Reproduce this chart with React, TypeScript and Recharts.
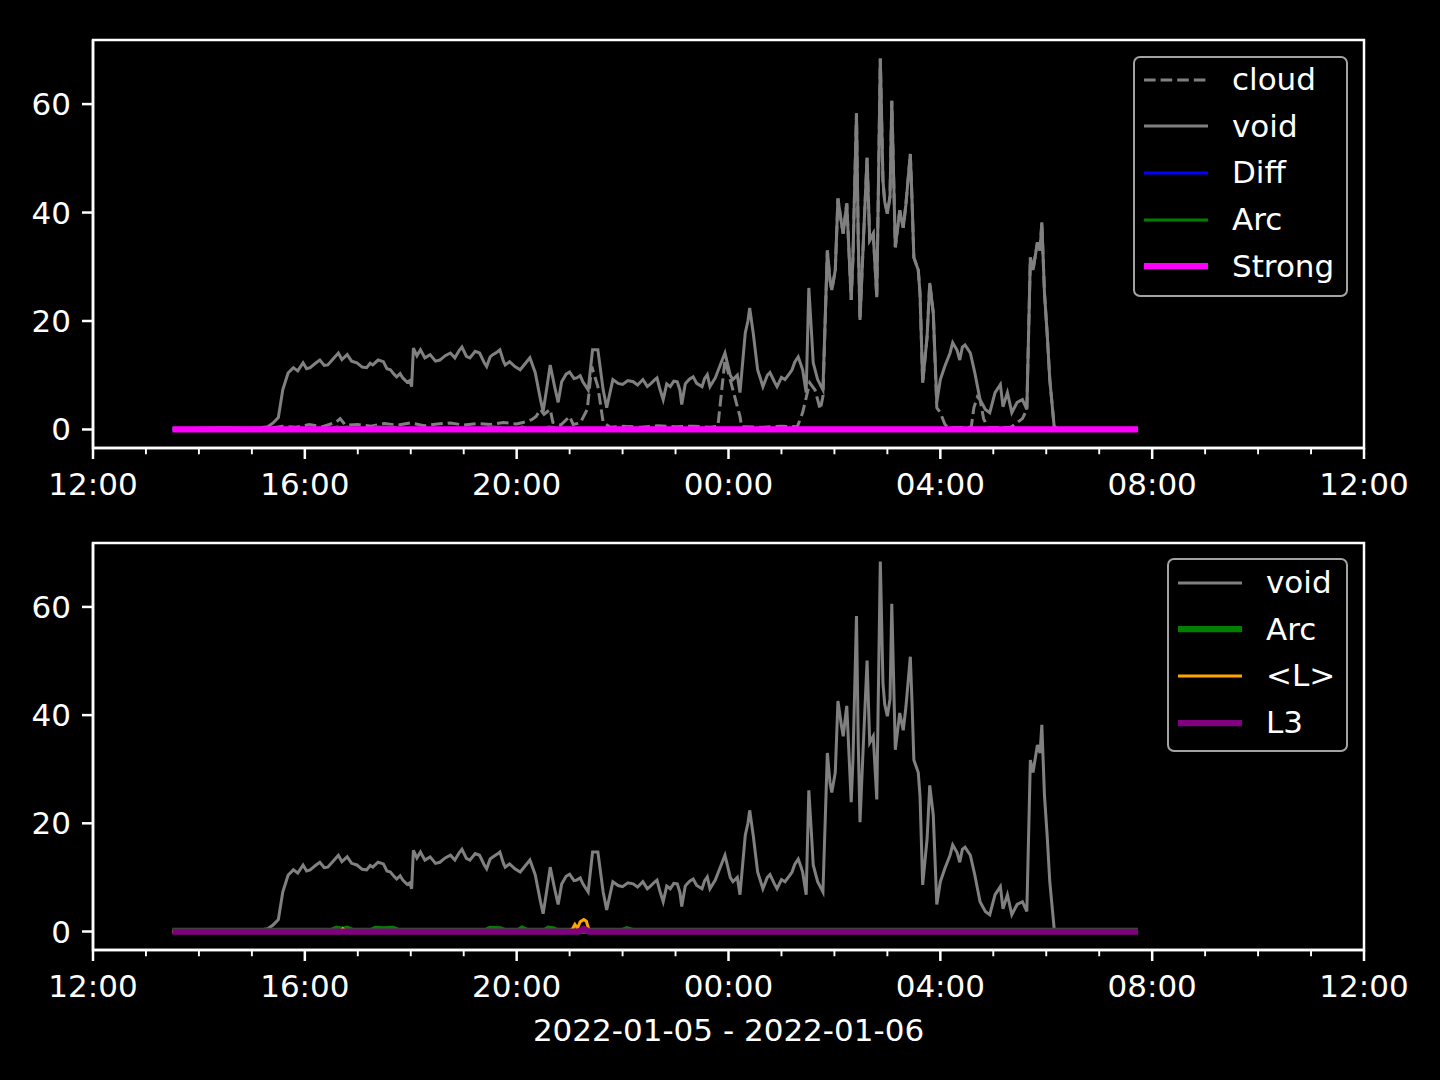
import React from 'react';
import { LineChart, Line, XAxis, YAxis, ReferenceArea } from 'recharts';

// time = minutes after 12:00 on 2022-01-05
const voidTimes = [
  90, 120, 150, 175, 190, 198, 204, 210, 215, 221, 227, 232, 238, 242, 246, 252, 257, 262, 266, 272,
  278, 282, 288, 293, 299, 305, 310, 314, 317, 323, 329, 333, 337, 341, 344, 348, 351, 356, 359, 361,
  363, 367, 371, 376, 382, 388, 393, 399, 405, 410, 415, 418, 423, 427, 433, 438, 443, 446, 450, 453,
  458, 461, 465, 467, 472, 478, 484, 490, 495, 501, 507, 510, 514, 518, 523, 527, 531, 536, 540, 545,
  548, 552, 555, 561, 566, 572, 578, 582, 589, 595, 600, 606, 612, 617, 623, 628, 631, 636, 639, 642,
  646, 650, 654, 658, 662, 665, 667, 671, 673, 676, 680, 684, 690, 693, 696, 699, 705, 710, 716, 722,
  725, 730, 733, 739, 742, 744, 748, 753, 759, 764, 767, 772, 775, 780, 784, 789, 792, 795, 799, 802,
  804, 808, 811, 814, 816, 821, 827, 832, 835, 837, 841, 844, 848, 850, 852, 854, 859, 861, 865, 867,
  869, 872, 877, 880, 884, 888, 892, 895, 897, 900, 903, 905, 909, 914, 918, 921, 926, 928, 930, 935,
  937, 940, 945, 948, 952, 956, 960, 965, 971, 974, 979, 982, 985, 988, 994, 999, 1005, 1011, 1016, 1022,
  1028, 1031, 1036, 1041, 1047, 1053, 1058, 1062, 1065, 1070, 1073, 1075, 1078, 1081, 1084, 1089, 1094, 1184,
];
const voidValues = [
  0.1, 0.2, 0.3, 0.2, 0.3, 0.5, 1.2, 2.2, 7.3, 10.4, 11.4, 10.8, 12.3, 11.2, 11.4, 12.2, 12.8, 11.8, 11.9, 13.0,
  14.1, 12.9, 13.8, 12.6, 12.3, 11.5, 11.4, 12.2, 11.9, 12.8, 12.5, 11.2, 11.0, 10.2, 9.7, 10.3, 9.5, 8.7, 9.0, 7.9,
  15.0, 13.6, 14.7, 13.2, 13.8, 12.6, 12.8, 13.6, 14.1, 13.2, 14.6, 15.2, 13.5, 13.2, 14.4, 14.1, 12.4, 11.6, 13.4, 13.8,
  14.3, 14.7, 12.6, 11.9, 12.5, 11.6, 11.0, 12.2, 13.2, 10.5, 5.5, 3.3, 7.5, 11.9, 7.9, 5.0, 8.8, 10.2, 10.6, 9.4,
  9.5, 9.9, 8.8, 7.3, 14.7, 14.7, 7.3, 4.0, 9.2, 8.5, 8.3, 9.0, 8.8, 8.2, 9.2, 7.9, 8.3, 9.1, 9.5, 7.6,
  5.5, 8.4, 7.9, 8.9, 8.8, 7.2, 4.6, 8.4, 8.8, 9.3, 9.7, 8.5, 7.9, 9.4, 10.1, 7.9, 9.5, 11.6, 14.1, 10.0,
  9.2, 10.0, 6.8, 17.8, 20.0, 22.4, 17.8, 11.0, 7.9, 10.0, 10.5, 8.8, 7.9, 9.6, 9.2, 10.3, 11.0, 12.4, 13.4, 12.0,
  11.0, 6.8, 26.1, 18.0, 12.3, 9.2, 7.3, 33.0, 27.5, 25.7, 29.4, 42.6, 38.0, 36.1, 39.0, 41.7, 23.9, 31.7, 58.3, 35.0,
  20.2, 31.7, 50.1, 34.9, 36.1, 24.4, 68.4, 45.9, 42.0, 39.8, 43.0, 60.6, 33.6, 40.4, 37.2, 41.5, 50.8, 42.0, 31.7, 29.4,
  25.0, 8.6, 17.1, 27.0, 21.5, 5.0, 9.2, 11.6, 14.1, 16.0, 14.6, 12.8, 15.2, 15.6, 14.1, 10.5, 5.5, 3.7, 3.1, 6.8,
  8.3, 4.2, 6.8, 3.1, 5.0, 5.5, 3.7, 31.7, 29.4, 34.5, 33.0, 38.2, 25.1, 17.8, 9.2, 0.5, 0.1, 0.1,
];

const cloudTimes = [
  90, 200, 215, 230, 245, 260, 275, 280, 286, 300, 315, 330, 345, 360, 375, 390, 405, 420, 435, 450,
  465, 480, 490, 497, 502, 507, 511, 518, 521, 530, 540, 544, 552, 560, 565, 572, 578, 586, 600, 620,
  640, 660, 680, 700, 708, 710, 716, 725, 733, 735, 760, 780, 798, 804, 812, 818, 824, 827, 832, 835,
  837, 841, 844, 848, 850, 852, 854, 859, 861, 865, 867, 869, 872, 877, 880, 884, 888, 892, 895, 897,
  900, 903, 905, 909, 914, 918, 921, 926, 928, 930, 935, 937, 940, 945, 948, 952, 956, 960, 965, 969,
  995, 998, 1002, 1005, 1009, 1014, 1040, 1053, 1058, 1062, 1065, 1070, 1073, 1075, 1078, 1081, 1084, 1089, 1094, 1184,
];
const cloudValues = [
  0, 0.2, 0.6, 0.4, 0.9, 0.5, 1.3, 2.0, 0.8, 0.9, 0.6, 1.1, 0.8, 1.2, 0.7, 1.0, 1.2, 0.8, 1.1, 0.9,
  1.3, 1.0, 1.4, 1.8, 2.4, 3.7, 2.8, 3.7, 1.3, 0.8, 2.4, 0.9, 1.2, 3.7, 11.6, 7.9, 1.3, 0.4, 0.6, 0.4,
  0.7, 0.5, 0.6, 0.4, 0.6, 3.7, 12.8, 7.3, 2.4, 0.5, 0.4, 0.6, 0.5, 3.1, 8.6, 7.3, 3.7, 6.1, 33.0, 27.5,
  25.7, 29.4, 42.6, 38.0, 36.1, 39.0, 41.7, 23.9, 31.7, 58.3, 35.0, 20.2, 31.7, 50.1, 34.9, 36.1, 24.4, 68.4, 45.9, 42.0,
  39.8, 43.0, 60.6, 33.6, 40.4, 37.2, 41.5, 50.8, 42.0, 31.7, 29.4, 25.0, 8.6, 17.1, 27.0, 21.5, 4.0, 3.1, 1.0, 0.3,
  0.4, 4.0, 6.0, 5.5, 2.0, 0.3, 0.4, 2.0, 3.7, 31.7, 29.4, 34.5, 33.0, 38.2, 25.1, 17.8, 9.2, 0.5, 0, 0,
];

const arcTimes = [90, 270, 276, 282, 288, 294, 315, 320, 330, 340, 346, 445, 450, 461, 467, 482, 486, 492, 512, 516, 521, 526, 600, 605, 612, 1184];
const arcValues = [0.1, 0.1, 0.5, 0.3, 0.5, 0.1, 0.1, 0.5, 0.4, 0.5, 0.1, 0.1, 0.5, 0.4, 0.1, 0.1, 0.5, 0.1, 0.1, 0.5, 0.4, 0.1, 0.1, 0.4, 0.1, 0.1];

const meanLTimes = [90, 280, 283, 286, 538, 543, 546, 549, 552, 556, 559, 562, 566, 1184];
const meanLValues = [0.05, 0.05, 0.5, 0.05, 0.05, 0.4, 1.3, 0.6, 1.8, 2.2, 1.9, 0.2, 0.05, 0.05];

const l3Times = [90, 550, 556, 562, 1184];
const l3Values = [0, 0, 0.5, 0, 0];

const flatTimes = [90, 1184];
const diffValues = [0, 0];
const strongValues = [0, 0];

const hourTicks = [0, 60, 120, 180, 240, 300, 360, 420, 480, 540, 600, 660, 720, 780, 840, 900, 960, 1020, 1080, 1140, 1200, 1260, 1320, 1380, 1440];
const majorLabels = ['12:00', '16:00', '20:00', '00:00', '04:00', '08:00', '12:00'];
const yTicks = [0, 20, 40, 60];
const xTitle = '2022-01-05 - 2022-01-06';

const Y_MIN = -3.42;
const Y_MAX = 71.82;
const FONT = "'DejaVu Sans', sans-serif";

const rows = (times: number[], values: number[]) => times.map((t, i) => ({ t, v: values[i] }));

const XTick = (props: any) => {
  const { x, y, payload } = props;
  const major = payload.value % 240 === 0;
  return (
    <g>
      <line x1={x} x2={x} y1={y} y2={y + (major ? 11 : 6.25)} stroke="#fff" strokeWidth={major ? 2.5 : 1.9} />
      {major && (
        <text x={x} y={y + 47} textAnchor="middle" fill="#fff" fontSize={31} fontFamily={FONT}>
          {majorLabels[payload.value / 240]}
        </text>
      )}
    </g>
  );
};

type LegendItem = { name: string; color: string; width: number; dash?: string };

function LegendBox({ left, top, width, height, items, handleLeft, textLeft, firstRow }: {
  left: number; top: number; width: number; height: number; items: LegendItem[];
  handleLeft: number; textLeft: number; firstRow: number;
}) {
  return (
    <div style={{
      position: 'absolute', left, top, width, height, boxSizing: 'border-box',
      border: '2.5px solid #a3a3a3', borderRadius: 7, background: '#000', fontFamily: FONT,
    }}>
      {items.map((it, i) => {
        const cy = firstRow + i * 46.7;
        return (
          <div key={it.name}>
            <svg style={{ position: 'absolute', left: handleLeft, top: cy - 5 }} width={65} height={10}>
              <line x1={0} x2={64} y1={5} y2={5} stroke={it.color} strokeWidth={it.width} strokeDasharray={it.dash} />
            </svg>
            <div style={{
              position: 'absolute', left: textLeft, top: cy - 15.5, height: 31, lineHeight: '31px',
              fontSize: 31, color: '#fff', whiteSpace: 'nowrap',
            }}>
              {it.name}
            </div>
          </div>
        );
      })}
    </div>
  );
}

function Panel({ height, children }: { height: number; children: React.ReactNode }) {
  return (
    <LineChart width={1440} height={height} margin={{ top: 40, right: 76, bottom: 0, left: 0 }}>
      <XAxis
        dataKey="t" type="number" domain={[0, 1440]} allowDataOverflow ticks={hourTicks} interval={0}
        height={72} tickSize={0} tickMargin={0} tickLine={false} tick={<XTick />}
        axisLine={{ stroke: '#fff', strokeWidth: 2.5 }}
      />
      <YAxis
        type="number" domain={[Y_MIN, Y_MAX]} allowDataOverflow ticks={yTicks} width={93}
        tickSize={11} tickMargin={11} tick={{ fill: '#fff', fontSize: 31, fontFamily: FONT }}
        tickLine={{ stroke: '#fff', strokeWidth: 2.5 }} axisLine={{ stroke: '#fff', strokeWidth: 2.5 }}
      />
      <ReferenceArea x1={0} x2={1440} y1={Y_MIN} y2={Y_MAX} fill="none" stroke="#fff" strokeWidth={2.5} ifOverflow="visible" />
      {children}
    </LineChart>
  );
}

export default function App() {
  const voidRows = rows(voidTimes, voidValues);
  const arcRows = rows(arcTimes, arcValues);
  return (
    <div style={{ position: 'absolute', left: 0, top: 0, width: 1440, height: 1080, background: '#000', fontFamily: FONT, overflow: 'hidden' }}>
      <div style={{ position: 'absolute', left: 0, top: 0 }}>
        <Panel height={520}>
          <Line data={rows(cloudTimes, cloudValues)} dataKey="v" name="cloud" stroke="#808080" strokeWidth={3} strokeDasharray="11.6 5" dot={false} isAnimationActive={false} />
          <Line data={voidRows} dataKey="v" name="void" stroke="#808080" strokeWidth={3} dot={false} isAnimationActive={false} />
          <Line data={rows(flatTimes, diffValues)} dataKey="v" name="Diff" stroke="#0000ff" strokeWidth={3} dot={false} isAnimationActive={false} />
          <Line data={arcRows} dataKey="v" name="Arc" stroke="#008000" strokeWidth={3} dot={false} isAnimationActive={false} />
          <Line data={rows(flatTimes, strongValues)} dataKey="v" name="Strong" stroke="#ff00ff" strokeWidth={6.25} dot={false} isAnimationActive={false} />
        </Panel>
      </div>
      <div style={{ position: 'absolute', left: 0, top: 503 }}>
        <Panel height={519}>
          <Line data={voidRows} dataKey="v" name="void" stroke="#808080" strokeWidth={3} dot={false} isAnimationActive={false} />
          <Line data={arcRows} dataKey="v" name="Arc" stroke="#008000" strokeWidth={6.25} dot={false} isAnimationActive={false} />
          <Line data={rows(meanLTimes, meanLValues)} dataKey="v" name="<L>" stroke="#ffa500" strokeWidth={3} dot={false} isAnimationActive={false} />
          <Line data={rows(l3Times, l3Values)} dataKey="v" name="L3" stroke="#800080" strokeWidth={6.25} dot={false} isAnimationActive={false} />
        </Panel>
      </div>
      <LegendBox
        left={1133} top={56} width={215} height={241} handleLeft={9} textLeft={97} firstRow={21.5}
        items={[
          { name: 'cloud', color: '#808080', width: 3, dash: '11.6 5' },
          { name: 'void', color: '#808080', width: 3 },
          { name: 'Diff', color: '#0000ff', width: 3 },
          { name: 'Arc', color: '#008000', width: 3 },
          { name: 'Strong', color: '#ff00ff', width: 6.25 },
        ]}
      />
      <LegendBox
        left={1167} top={558} width={181} height={194} handleLeft={8.5} textLeft={97} firstRow={22.5}
        items={[
          { name: 'void', color: '#808080', width: 3 },
          { name: 'Arc', color: '#008000', width: 6.25 },
          { name: '<L>', color: '#ffa500', width: 3 },
          { name: 'L3', color: '#800080', width: 6.25 },
        ]}
      />
      <div style={{
        position: 'absolute', left: 93, width: 1271, top: 1015, height: 31, lineHeight: '31px',
        textAlign: 'center', color: '#fff', fontSize: 31, whiteSpace: 'nowrap',
      }}>
        {xTitle}
      </div>
    </div>
  );
}
